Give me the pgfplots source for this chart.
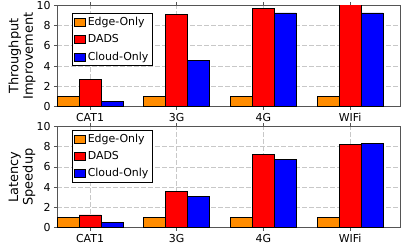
\documentclass[border=0pt]{standalone}
\usepackage{fontspec}
\setmainfont{DejaVu Sans}
\usepackage{pgfplots}
\pgfplotsset{compat=1.18}
\definecolor{cEdge}{HTML}{FF8C00}
\definecolor{cDads}{HTML}{FF0000}
\definecolor{cCloud}{HTML}{0000FF}
\definecolor{spine}{HTML}{555555}
\definecolor{gridc}{HTML}{C8C8C8}
\pgfplotsset{
  mybar/.style={
    scale only axis, width=343bp, height=101.5bp,
    ybar=0pt, bar width=22bp,
    xmin=-0.381, xmax=3.576, ymin=0, ymax=10,
    xtick={0,1,2,3}, xticklabels={CAT1,3G,4G,WIFi},
    ytick={0,2,4,6,8,10},
    tick label style={font=\fontsize{11}{13}\selectfont},
    /pgf/number format/assume math mode=true,
    axis line style={spine, line width=0.9pt},
    major tick length=3bp,
    tick style={spine, line width=0.6pt},
    xtick pos=both, ytick pos=left,
    tick align=outside,
    ymajorgrids, xmajorgrids,
    grid style={gridc, dash pattern=on 5bp off 2bp, line width=0.6pt},
    every axis plot/.append style={draw=black, line width=0.6pt},
    every axis y label/.style={font=\fontsize{13}{14.5}\selectfont, align=center, at={(axis description cs:-0.102,0.5)}, anchor=center, rotate=90},
    legend cell align=left,
    legend style={font=\fontsize{11}{13}\selectfont, draw=black, line width=0.6pt, inner sep=2bp, row sep=3.5bp, anchor=north west},
    legend image code/.code={\draw[#1, line width=0.5pt] (0bp,-4bp) rectangle (11bp,4bp);},
  }
}
\begin{document}
\begin{tikzpicture}
\path[use as bounding box] (-57bp,-18.3bp) rectangle (344bp,227.7bp);
\begin{axis}[mybar, at={(0bp,121bp)}, anchor=south west,
  ylabel={Throughput\\Improvement},
  legend style={at={(axis description cs:0.0437,0.921)}}]
\addplot[fill=cEdge] coordinates {(0,1) (1,1) (2,1) (3,1)};
\addplot[fill=cDads] coordinates {(0,2.72) (1,9.08) (2,9.7) (3,10.3)};
\addplot[fill=cCloud] coordinates {(0,0.56) (1,4.56) (2,9.24) (3,9.24)};
\legend{Edge-Only,DADS,Cloud-Only}
\end{axis}
\begin{axis}[mybar, at={(0bp,0bp)}, anchor=south west,
  ylabel={Latency\\Speedup},
  legend style={at={(axis description cs:0.0437,0.967)}}]
\addplot[fill=cEdge] coordinates {(0,0.99) (1,0.99) (2,0.99) (3,0.99)};
\addplot[fill=cDads] coordinates {(0,1.26) (1,3.56) (2,7.2) (3,8.19)};
\addplot[fill=cCloud] coordinates {(0,0.53) (1,3.07) (2,6.73) (3,8.29)};
\legend{Edge-Only,DADS,Cloud-Only}
\end{axis}
\end{tikzpicture}
\end{document}
